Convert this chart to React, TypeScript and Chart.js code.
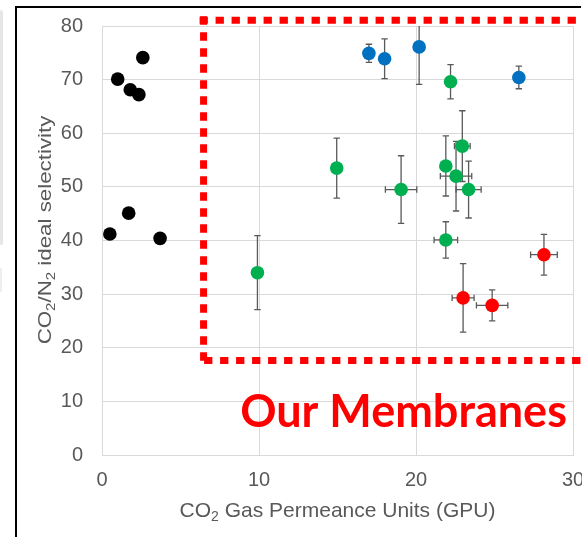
import React, { useEffect, useRef } from "react";
import { Chart, registerables } from "chart.js";

Chart.register(...registerables);

// ---- axis ticks ----
const xTickValues = [0, 10, 20, 30];
const yTickValues = [0, 10, 20, 30, 40, 50, 60, 70, 80];

// ---- literature membranes (black) ----
const otherX = [0.5, 1.0, 1.8, 2.35, 2.6, 1.7, 3.7];
const otherY = [41.2, 70.1, 68.1, 67.2, 74.1, 45.1, 40.4];

// ---- our membranes: blue ----
const blueX = [17.0, 18.0, 20.2, 26.55];
const blueY = [74.9, 73.9, 76.1, 70.4];
const blueYErr = [1.7, 3.7, 7.0, 2.1];
const blueXErr = [0, 0, 0, 0];

// ---- our membranes: green ----
const greenX = [22.2, 14.95, 19.05, 21.9, 22.95, 22.55, 23.35, 21.9, 9.9];
const greenY = [69.6, 53.5, 49.5, 53.9, 57.6, 52.0, 49.5, 40.1, 34.0];
const greenYErr = [3.2, 5.6, 6.3, 5.6, 6.6, 6.5, 5.3, 3.4, 6.9];
const greenXErr = [0, 0, 1.0, 0, 0.5, 1.0, 0.8, 0.75, 0];

// ---- our membranes: red ----
const redX = [23.0, 24.85, 28.15];
const redY = [29.3, 27.9, 37.35];
const redYErr = [6.4, 2.9, 3.8];
const redXErr = [0.7, 1.0, 0.85];

// ---- annotation (data units) ----
const regionLeft = 6.47;
const regionTop = 81.05;
const regionBottom = 17.6;
const labelText = "Our Membranes";
const labelX = 8.8;
const labelY = 5.2;

const xTitleParts = [
  { t: "CO", sub: false },
  { t: "2", sub: true },
  { t: " Gas Permeance Units (GPU)", sub: false },
];
const yTitleParts = [
  { t: "CO", sub: false },
  { t: "2", sub: true },
  { t: "/N", sub: false },
  { t: "2", sub: true },
  { t: " ideal selectivity", sub: false },
];

const series = [
  { x: otherX, y: otherY, xe: null as number[] | null, ye: null as number[] | null, color: "#000000" },
  { x: blueX, y: blueY, xe: blueXErr, ye: blueYErr, color: "#0070C0" },
  { x: greenX, y: greenY, xe: greenXErr, ye: greenYErr, color: "#00B050" },
  { x: redX, y: redY, xe: redXErr, ye: redYErr, color: "#FF0000" },
];

const TEXT_GRAY = "#595959";

function drawRich(ctx: CanvasRenderingContext2D, parts: { t: string; sub: boolean }[], size: number, subSize: number, subDrop: number, family: string) {
  const fonts = parts.map((p) => (p.sub ? `${subSize}px "${family}"` : `${size}px "${family}"`));
  let total = 0;
  const widths = parts.map((p, i) => {
    ctx.font = fonts[i];
    const w = ctx.measureText(p.t).width;
    total += w;
    return w;
  });
  let cx = -total / 2;
  parts.forEach((p, i) => {
    ctx.font = fonts[i];
    ctx.fillText(p.t, cx, p.sub ? subDrop : 0);
    cx += widths[i];
  });
}

const errorBarPlugin = {
  id: "errorBars",
  beforeDatasetsDraw(chart: any) {
    const { ctx, chartArea, scales } = chart;
    const xs = scales.x;
    const ys = scales.y;
    ctx.save();
    ctx.beginPath();
    ctx.rect(chartArea.left, chartArea.top, chartArea.right - chartArea.left, chartArea.bottom - chartArea.top);
    ctx.clip();
    ctx.strokeStyle = "#5a5a5a";
    ctx.lineWidth = 1.3;
    const cap = 3.2;
    series.forEach((s) => {
      s.x.forEach((xv, i) => {
        const px = xs.getPixelForValue(xv);
        const py = ys.getPixelForValue(s.y[i]);
        ctx.beginPath();
        if (s.ye && s.ye[i] > 0) {
          const t = ys.getPixelForValue(s.y[i] + s.ye[i]);
          const b = ys.getPixelForValue(s.y[i] - s.ye[i]);
          ctx.moveTo(px, t);
          ctx.lineTo(px, b);
          ctx.moveTo(px - cap, t);
          ctx.lineTo(px + cap, t);
          ctx.moveTo(px - cap, b);
          ctx.lineTo(px + cap, b);
        }
        if (s.xe && s.xe[i] > 0) {
          const l = xs.getPixelForValue(xv - s.xe[i]);
          const r = xs.getPixelForValue(xv + s.xe[i]);
          ctx.moveTo(l, py);
          ctx.lineTo(r, py);
          ctx.moveTo(l, py - cap);
          ctx.lineTo(l, py + cap);
          ctx.moveTo(r, py - cap);
          ctx.lineTo(r, py + cap);
        }
        ctx.stroke();
      });
    });
    ctx.restore();
  },
};

const annotationPlugin = {
  id: "annotations",
  afterDraw(chart: any) {
    const { ctx, scales, chartArea } = chart;
    const xs = scales.x;
    const ys = scales.y;
    const l = xs.getPixelForValue(regionLeft);
    const t = ys.getPixelForValue(regionTop);
    const b = ys.getPixelForValue(regionBottom);
    const r = chart.width + 10;
    ctx.save();
    ctx.strokeStyle = "#FF0000";
    ctx.lineWidth = 7;
    ctx.lineCap = "butt";
    ctx.setLineDash([8.3, 7.7]);
    ctx.beginPath();
    ctx.moveTo(l - 4, t);
    ctx.lineTo(r, t);
    ctx.stroke();
    ctx.beginPath();
    ctx.moveTo(l, t - 4);
    ctx.lineTo(l, b + 4);
    ctx.stroke();
    ctx.beginPath();
    ctx.moveTo(l + 0.5, b);
    ctx.lineTo(r, b);
    ctx.stroke();
    ctx.setLineDash([]);

    // big label
    ctx.fillStyle = "#FF0000";
    ctx.font = 'bold 45px "Lato"';
    ctx.textAlign = "left";
    ctx.textBaseline = "alphabetic";
    ctx.fillText(labelText, xs.getPixelForValue(labelX), ys.getPixelForValue(labelY));

    // axis titles
    ctx.fillStyle = TEXT_GRAY;
    ctx.textAlign = "left";
    ctx.save();
    ctx.translate((chartArea.left + chartArea.right) / 2, 517);
    drawRich(ctx, xTitleParts, 21, 14, 4, "Liberation Sans");
    ctx.restore();

    ctx.save();
    ctx.translate(51, 230);
    ctx.rotate(-Math.PI / 2);
    ctx.scale(1.2, 1);
    drawRich(ctx, yTitleParts, 18.6, 12.5, 3.5, "Liberation Sans");
    ctx.restore();
    ctx.restore();
  },
};

export default function App() {
  const ref = useRef<HTMLCanvasElement | null>(null);
  useEffect(() => {
    if (!ref.current) return;
    const chart = new Chart(ref.current, {
      type: "scatter",
      data: {
        datasets: series.map((s) => ({
          data: s.x.map((xv, i) => ({ x: xv, y: s.y[i] })),
          backgroundColor: s.color,
          borderColor: s.color,
          pointRadius: 6.8,
          pointHoverRadius: 6.8,
          pointBorderWidth: 0,
        })),
      },
      options: {
        animation: false,
        responsive: false,
        devicePixelRatio: 1,
        events: [],
        layout: { padding: { top: 26, right: 9, bottom: 0, left: 0 } },
        plugins: { legend: { display: false }, tooltip: { enabled: false } },
        scales: {
          x: {
            type: "linear",
            min: 0,
            max: 30,
            afterBuildTicks: (s: any) => {
              s.ticks = xTickValues.map((v) => ({ value: v }));
            },
            afterFit: (s: any) => {
              s.height = 82;
              s.paddingLeft = 0;
              s.paddingRight = 0;
            },
            ticks: {
              color: TEXT_GRAY,
              font: { family: "Liberation Sans", size: 20 },
              padding: 13,
              maxRotation: 0,
            },
            grid: { color: "#d9d9d9", lineWidth: 1, drawTicks: false },
            border: { color: "#d9d9d9" },
          },
          y: {
            type: "linear",
            min: 0,
            max: 80,
            afterBuildTicks: (s: any) => {
              s.ticks = yTickValues.map((v) => ({ value: v }));
            },
            afterFit: (s: any) => {
              s.width = 102;
              s.paddingTop = 0;
              s.paddingBottom = 0;
            },
            ticks: {
              color: TEXT_GRAY,
              font: { family: "Liberation Sans", size: 20 },
              padding: 19,
            },
            grid: { color: "#d9d9d9", lineWidth: 1, drawTicks: false },
            border: { color: "#d9d9d9" },
          },
        },
      },
      plugins: [errorBarPlugin, annotationPlugin],
    });
    return () => chart.destroy();
  }, []);

  return (
    <div style={{ position: "fixed", left: 0, top: 0, width: 582, height: 537, background: "#ffffff", overflow: "hidden" }}>
      <canvas ref={ref} width={582} height={537} style={{ position: "absolute", left: 0, top: 0, width: 582, height: 537 }} />
      <div style={{ position: "absolute", left: 15, top: 6, width: 566, height: 2, background: "#000" }} />
      <div style={{ position: "absolute", left: 15, top: 6, width: 2, height: 531, background: "#000" }} />
      <div style={{ position: "absolute", left: 0, top: 10, width: 3, height: 235, background: "#e4e6e8", borderRadius: 2 }} />
      <div style={{ position: "absolute", left: 0, top: 268, width: 2, height: 24, background: "#eceef0" }} />
    </div>
  );
}
